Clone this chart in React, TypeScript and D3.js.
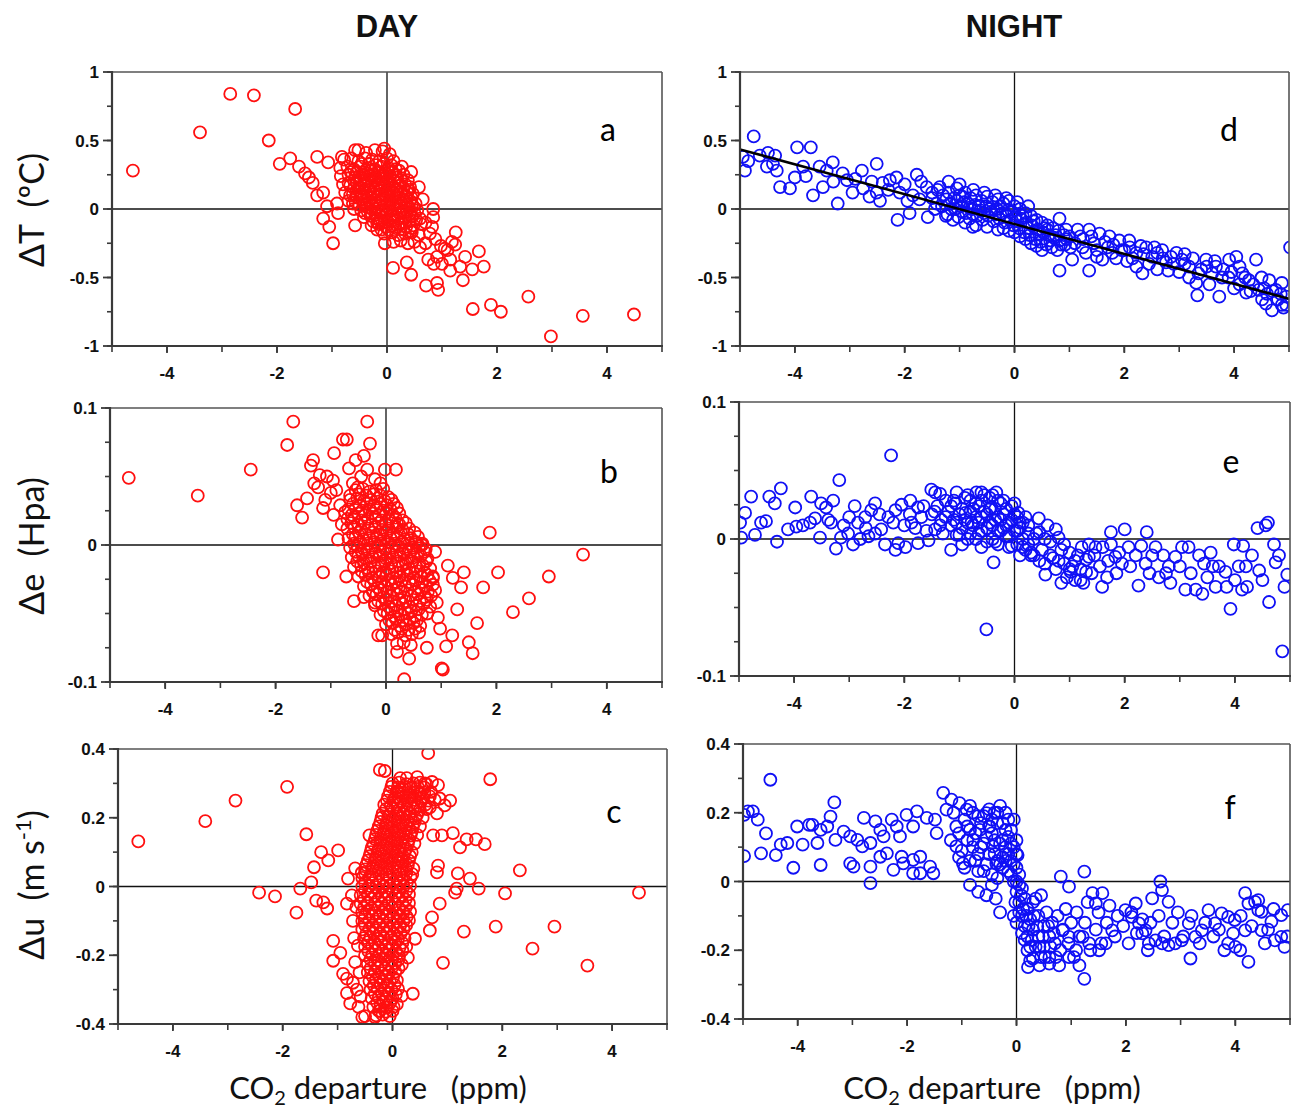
import React from 'react';
import * as d3 from 'd3';

// ---------- tick values & labels ----------
const xTickValues = [-4, -2, 0, 2, 4];
const xTickLabels = ['-4', '-2', '0', '2', '4'];
const tTickValues = [-1, -0.5, 0, 0.5, 1];
const tTickLabels = ['-1', '-0.5', '0', '0.5', '1'];
const eTickValues = [-0.1, 0, 0.1];
const eTickLabels = ['-0.1', '0', '0.1'];
const uTickValues = [-0.4, -0.2, 0, 0.2, 0.4];
const uTickLabels = ['-0.4', '-0.2', '0', '0.2', '0.4'];

// ---------- data: [CO2 departure (ppm), anomaly] ----------
const dayT: [number, number][] = [
  [-4.62,0.28],[-3.40,0.56],[-2.85,0.84],[-2.42,0.83],[-1.67,0.73],[-2.15,0.50],[-1.95,0.33],[-1.76,0.37],[-1.6,0.31],[-1.49,0.26],[-1.42,0.23],[-1.35,0.19],[-1.27,0.10],[-1.16,0.12],[-1.27,0.38],[-1.07,0.34],[-1.09,0.02],[-1.16,-0.07],[-1.05,-0.13],[-0.98,-0.25],[-0.89,-0.03],[-0.82,0.38],[-0.58,0.43],[-0.58,-0.12],[-0.91,0.04],[-0.18,-0.15],
  [-0.05,0.44],[0.44,0.27],[0.58,0.16],[0.84,0.0],[0.82,-0.13],[1.25,-0.17],[1.24,-0.26],[1.05,-0.29],[0.91,-0.35],[1.15,-0.37],[1.42,-0.35],[1.67,-0.31],[1.76,-0.42],[1.55,-0.44],[1.38,-0.52],[1.33,-0.42],[1.15,-0.45],[0.91,-0.54],[0.93,-0.59],[0.71,-0.56],[0.44,-0.48],[0.11,-0.43],[0.36,-0.39],[-0.04,-0.25],[1.56,-0.73],[1.89,-0.70],[2.07,-0.75],[2.57,-0.64],[2.98,-0.93],[3.56,-0.78],[4.49,-0.77],[0.6,-0.28],[0.75,-0.37],[0.84,-0.06],[0.65,0.07],
  [0.7,-0.1],[0.78,-0.18],[0.88,-0.22],[0.98,-0.27],[1.1,-0.3],[1.18,-0.24],[0.7,-0.25],[0.85,-0.4],[1.0,-0.4],
  [-0.52,0.43],[-0.38,0.41],[-0.22,0.43],[-0.08,0.42],[0.05,0.40],
  [-0.78,0.36],[-0.65,0.37],[-0.52,0.35],[-0.4,0.37],[-0.27,0.36],[-0.14,0.35],[0.0,0.37],[0.12,0.35],
  [-0.85,0.30],[-0.72,0.31],[-0.6,0.29],[-0.48,0.31],[-0.35,0.30],[-0.22,0.29],[-0.1,0.31],[0.03,0.30],[0.16,0.29],[0.27,0.31],
  [-0.84,0.24],[-0.7,0.25],[-0.58,0.23],[-0.45,0.25],[-0.32,0.24],[-0.2,0.23],[-0.07,0.25],[0.06,0.24],[0.18,0.23],[0.3,0.25],
  [-0.8,0.18],[-0.67,0.17],[-0.55,0.19],[-0.42,0.18],[-0.3,0.17],[-0.17,0.19],[-0.05,0.18],[0.08,0.17],[0.2,0.19],[0.33,0.18],[0.42,0.16],
  [-0.76,0.12],[-0.62,0.11],[-0.5,0.13],[-0.38,0.12],[-0.25,0.11],[-0.12,0.13],[0.0,0.12],[0.12,0.11],[0.25,0.13],[0.37,0.12],[0.47,0.11],
  [-0.7,0.06],[-0.57,0.05],[-0.45,0.07],[-0.32,0.06],[-0.2,0.05],[-0.08,0.07],[0.05,0.06],[0.17,0.05],[0.3,0.07],[0.42,0.06],[0.52,0.04],
  [-0.6,0.0],[-0.47,-0.01],[-0.35,0.01],[-0.22,0.0],[-0.1,-0.01],[0.03,0.01],[0.15,0.0],[0.28,-0.01],[0.4,0.01],[0.55,-0.01],
  [-0.42,-0.06],[-0.3,-0.05],[-0.17,-0.07],[-0.05,-0.06],[0.08,-0.05],[0.2,-0.07],[0.33,-0.06],[0.45,-0.05],[0.6,-0.07],
  [-0.28,-0.12],[-0.15,-0.11],[-0.02,-0.13],[0.1,-0.12],[0.23,-0.11],[0.35,-0.13],[0.48,-0.12],[0.62,-0.11],
  [-0.05,-0.18],[0.08,-0.17],[0.2,-0.19],[0.33,-0.18],[0.45,-0.17],[0.58,-0.19],
  [0.12,-0.24],[0.25,-0.23],[0.38,-0.25],[0.5,-0.24],
  [-0.55,0.27],[-0.42,0.27],[-0.28,0.28],[-0.15,0.27],[-0.02,0.26],[0.1,0.27],[0.22,0.28],
  [-0.6,0.21],[-0.47,0.21],[-0.35,0.20],[-0.22,0.21],[-0.1,0.22],[0.02,0.21],[0.14,0.20],[0.26,0.21],[0.38,0.21],
  [-0.6,0.15],[-0.45,0.15],[-0.32,0.14],[-0.2,0.15],[-0.08,0.16],[0.05,0.15],[0.18,0.14],[0.3,0.15],[0.4,0.14],
  [-0.55,0.09],[-0.42,0.09],[-0.28,0.08],[-0.15,0.09],[-0.02,0.10],[0.1,0.09],[0.22,0.08],[0.35,0.09],[0.45,0.08],
  [-0.5,0.03],[-0.38,0.03],[-0.25,0.02],[-0.12,0.03],[0.0,0.04],[0.12,0.03],[0.25,0.02],[0.37,0.03],[0.48,0.02],
  [-0.4,-0.03],[-0.28,-0.03],[-0.15,-0.02],[-0.02,-0.03],[0.1,-0.04],[0.23,-0.03],[0.36,-0.02],[0.5,-0.03],
  [-0.25,-0.09],[-0.12,-0.09],[0.0,-0.08],[0.13,-0.09],[0.26,-0.10],[0.4,-0.09],[0.53,-0.08],
  [-0.1,-0.15],[0.03,-0.15],[0.16,-0.14],[0.3,-0.15],[0.43,-0.16],
  [-0.46,0.33],[-0.33,0.33],[-0.2,0.32],[-0.06,0.33],[0.08,0.32],
  [-0.66,0.27],[-0.5,0.24],[-0.37,0.26],[-0.25,0.25],[-0.12,0.24],[0.02,0.28],[0.15,0.25],
  [-0.7,0.19],[-0.52,0.16],[-0.4,0.21],[-0.27,0.19],[-0.14,0.17],[0.0,0.19],[0.12,0.16],[0.25,0.17],
  [-0.67,0.1],[-0.48,0.1],[-0.35,0.14],[-0.22,0.13],[-0.1,0.1],[0.04,0.13],[0.16,0.1],[0.3,0.11],
  [-0.62,0.04],[-0.42,0.04],[-0.28,0.04],[-0.15,0.06],[-0.02,0.07],[0.1,0.06],[0.22,0.05],[0.35,0.05],[0.45,0.03],
  [-0.35,-0.02],[-0.2,-0.04],[-0.08,-0.02],[0.05,-0.01],[0.18,-0.04],[0.3,-0.03],[0.42,-0.04],
  [-0.18,-0.1],[-0.05,-0.1],[0.07,-0.09],[0.2,-0.13],[0.32,-0.1],[0.45,-0.14],
];

const dayE: [number, number][] = [
  [-4.66,0.049],[-3.41,0.036],[-2.45,0.055],[-1.68,0.090],[-1.79,0.073],[-0.34,0.090],[-0.29,0.074],[-0.78,0.077],[-0.71,0.077],[-0.94,0.067],[-0.34,0.055],[-0.67,0.056],[-1.32,0.062],[-1.36,0.058],[-1.2,0.051],[-1.07,0.050],[-0.96,0.047],[-1.23,0.042],[-1.43,0.034],[-1.61,0.029],[-1.52,0.020],[-1.14,0.027],[-0.83,0.029],[-0.74,0.024],[-0.51,0.042],[-0.65,0.036],[-0.87,0.004],[-1.14,-0.020],[-0.72,-0.023],[-0.58,-0.041],[-0.4,-0.038],[-0.2,-0.042],[-0.14,-0.066],
  [-0.02,0.055],[0.18,0.055],[0.04,0.035],[0.2,0.016],[1.88,0.009],[3.57,-0.007],[2.95,-0.023],[2.59,-0.039],[2.3,-0.049],[2.03,-0.020],[1.76,-0.031],[1.65,-0.057],[1.5,-0.071],[1.57,-0.079],[1.29,-0.047],[1.41,-0.020],[1.36,-0.031],[1.21,-0.024],[1.12,-0.015],[0.89,-0.005],[0.65,0.0],[0.53,0.002],[1.01,-0.090],[1.03,-0.091],[0.33,-0.098],[0.42,-0.083],[0.2,-0.078],[0.74,-0.075],[1.09,-0.074],[1.2,-0.066],[-0.07,-0.066],[0.89,-0.033],[0.85,-0.023],[0.92,-0.042],[0.94,-0.053],[0.98,-0.061],
  [-1.0,0.038],[-0.9,0.04],[-0.6,0.045],[-0.45,0.05],[-0.55,0.062],[-0.4,0.065],[-1.3,0.045],[-1.1,0.033],[-0.95,0.022],[-0.8,0.015],[-0.2,0.048],[-0.1,0.045],
  [-0.55,0.040],[-0.42,0.041],[-0.3,0.039],[-0.18,0.040],[-0.05,0.041],
  [-0.65,0.033],[-0.52,0.034],[-0.4,0.032],[-0.27,0.033],[-0.15,0.034],[-0.02,0.032],[0.1,0.033],
  [-0.68,0.026],[-0.55,0.027],[-0.43,0.025],[-0.3,0.026],[-0.18,0.027],[-0.05,0.025],[0.08,0.026],[0.2,0.027],
  [-0.7,0.019],[-0.58,0.020],[-0.45,0.018],[-0.33,0.019],[-0.2,0.020],[-0.08,0.018],[0.05,0.019],[0.17,0.020],[0.3,0.018],
  [-0.7,0.012],[-0.57,0.013],[-0.45,0.011],[-0.32,0.012],[-0.2,0.013],[-0.07,0.011],[0.05,0.012],[0.18,0.013],[0.3,0.011],[0.42,0.012],
  [-0.68,0.005],[-0.55,0.006],[-0.42,0.004],[-0.3,0.005],[-0.17,0.006],[-0.05,0.004],[0.08,0.005],[0.2,0.006],[0.33,0.004],[0.45,0.005],[0.58,0.006],
  [-0.65,-0.002],[-0.52,-0.001],[-0.4,-0.003],[-0.27,-0.002],[-0.15,-0.001],[-0.02,-0.003],[0.1,-0.002],[0.23,-0.001],[0.35,-0.003],[0.48,-0.002],[0.6,-0.001],[0.72,-0.003],
  [-0.62,-0.009],[-0.5,-0.008],[-0.37,-0.010],[-0.25,-0.009],[-0.12,-0.008],[0.0,-0.010],[0.13,-0.009],[0.25,-0.008],[0.38,-0.010],[0.5,-0.009],[0.63,-0.008],[0.75,-0.010],
  [-0.58,-0.016],[-0.45,-0.015],[-0.33,-0.017],[-0.2,-0.016],[-0.08,-0.015],[0.05,-0.017],[0.17,-0.016],[0.3,-0.015],[0.42,-0.017],[0.55,-0.016],[0.67,-0.015],[0.8,-0.017],
  [-0.5,-0.023],[-0.37,-0.022],[-0.25,-0.024],[-0.12,-0.023],[0.0,-0.022],[0.13,-0.024],[0.25,-0.023],[0.38,-0.022],[0.5,-0.024],[0.63,-0.023],[0.75,-0.022],[0.85,-0.024],
  [-0.4,-0.030],[-0.27,-0.029],[-0.15,-0.031],[-0.02,-0.030],[0.1,-0.029],[0.23,-0.031],[0.35,-0.030],[0.48,-0.029],[0.6,-0.031],[0.72,-0.030],[0.85,-0.029],
  [-0.3,-0.037],[-0.17,-0.036],[-0.05,-0.038],[0.08,-0.037],[0.2,-0.036],[0.33,-0.038],[0.45,-0.037],[0.58,-0.036],[0.7,-0.038],[0.82,-0.037],
  [-0.2,-0.044],[-0.07,-0.043],[0.05,-0.045],[0.18,-0.044],[0.3,-0.043],[0.43,-0.045],[0.55,-0.044],[0.68,-0.043],[0.8,-0.045],
  [-0.1,-0.051],[0.03,-0.050],[0.15,-0.052],[0.28,-0.051],[0.4,-0.050],[0.53,-0.052],[0.65,-0.051],[0.75,-0.050],
  [0.0,-0.058],[0.12,-0.057],[0.25,-0.059],[0.37,-0.058],[0.5,-0.057],[0.62,-0.059],
  [0.1,-0.065],[0.22,-0.064],[0.35,-0.066],[0.47,-0.065],[0.6,-0.064],
  [0.2,-0.072],[0.32,-0.071],[0.45,-0.073],
  [-0.48,0.037],[-0.35,0.036],[-0.22,0.037],[-0.1,0.036],
  [-0.6,0.030],[-0.48,0.029],[-0.35,0.03],[-0.22,0.029],[-0.1,0.03],[0.02,0.029],[0.14,0.03],
  [-0.62,0.022],[-0.5,0.023],[-0.38,0.022],[-0.25,0.023],[-0.13,0.022],[0.0,0.023],[0.12,0.022],[0.24,0.023],
  [-0.63,0.016],[-0.5,0.015],[-0.38,0.016],[-0.26,0.015],[-0.13,0.016],[0.0,0.015],[0.12,0.016],[0.24,0.015],[0.36,0.016],
  [-0.6,0.008],[-0.48,0.009],[-0.36,0.008],[-0.23,0.009],[-0.1,0.008],[0.02,0.009],[0.14,0.008],[0.27,0.009],[0.4,0.008],[0.52,0.009],
  [-0.58,0.001],[-0.46,0.002],[-0.33,0.001],[-0.2,0.002],[-0.08,0.001],[0.05,0.002],[0.17,0.001],[0.3,0.002],[0.42,0.001],[0.55,0.002],[0.66,0.001],
  [-0.55,-0.005],[-0.43,-0.006],[-0.3,-0.005],[-0.18,-0.006],[-0.05,-0.005],[0.07,-0.006],[0.2,-0.005],[0.32,-0.006],[0.45,-0.005],[0.57,-0.006],[0.7,-0.005],
  [-0.52,-0.012],[-0.4,-0.013],[-0.27,-0.012],[-0.14,-0.013],[-0.02,-0.012],[0.1,-0.013],[0.23,-0.012],[0.36,-0.013],[0.48,-0.012],[0.6,-0.013],[0.73,-0.012],
  [-0.44,-0.019],[-0.31,-0.02],[-0.18,-0.019],[-0.06,-0.02],[0.07,-0.019],[0.2,-0.02],[0.32,-0.019],[0.44,-0.02],[0.57,-0.019],[0.7,-0.02],
  [-0.34,-0.027],[-0.21,-0.026],[-0.08,-0.027],[0.04,-0.026],[0.17,-0.027],[0.29,-0.026],[0.42,-0.027],[0.54,-0.026],[0.66,-0.027],[0.79,-0.026],
  [-0.24,-0.034],[-0.11,-0.033],[0.02,-0.034],[0.14,-0.033],[0.27,-0.034],[0.39,-0.033],[0.52,-0.034],[0.64,-0.033],[0.76,-0.034],
  [-0.14,-0.041],[-0.01,-0.04],[0.11,-0.041],[0.24,-0.04],[0.36,-0.041],[0.49,-0.04],[0.61,-0.041],[0.74,-0.04],
  [-0.04,-0.048],[0.09,-0.047],[0.21,-0.048],[0.34,-0.047],[0.46,-0.048],[0.59,-0.047],
  [0.06,-0.055],[0.18,-0.054],[0.31,-0.055],[0.43,-0.054],[0.56,-0.055],
  [0.16,-0.062],[0.28,-0.061],[0.41,-0.062],[0.53,-0.061],
];

const dayU: [number, number][] = [
  [-4.63,0.131],[-3.41,0.19],[-2.86,0.25],[-1.92,0.29],[-1.57,0.152],[-1.3,0.1],[-0.99,0.105],[-1.17,0.076],[-1.43,0.056],[-1.48,0.012],[-1.68,-0.006],[-2.43,-0.018],[-2.14,-0.029],[-1.75,-0.076],[-1.39,-0.041],[-1.26,-0.046],[-1.19,-0.064],[-1.08,-0.158],[-0.95,-0.193],[-1.08,-0.216],[-0.9,-0.254],[-0.83,-0.268],[-0.83,-0.31],[-0.77,-0.34],[-0.68,0.053],[-0.56,0.04],[-0.81,0.023],[-0.74,-0.026],[-0.83,-0.05],[-0.63,-0.172],[-0.42,0.149],[-0.23,0.339],[-0.5,-0.377],
  [0.65,0.388],[-0.14,0.336],[1.78,0.312],[2.32,0.047],[4.49,-0.018],[2.05,-0.02],[2.95,-0.117],[2.55,-0.181],[1.88,-0.117],[1.3,-0.131],[3.55,-0.23],[0.92,-0.222],[1.68,0.123],[1.52,0.137],[1.35,0.137],[1.23,0.114],[1.1,0.155],[1.19,0.038],[1.41,0.023],[1.57,-0.006],[1.14,-0.018],[1.17,-0.006],[0.83,0.061],[0.81,0.041],[0.86,-0.05],[0.72,-0.09],[0.68,-0.128],[0.41,-0.152],[0.28,-0.207],[0.37,-0.312],[0.17,-0.318],[0.08,-0.342],[-0.23,-0.362],[-0.32,-0.38],[1.05,0.25],[0.95,0.236],[0.86,0.256],[0.83,0.295],[0.72,0.304],[0.59,0.3],[0.45,0.318],[0.26,0.315],[0.14,0.315],[0.1,0.274],[0.32,0.266],[0.5,0.271],[0.68,0.23],[0.81,0.213],[0.74,0.149],[0.9,0.149],
  [-0.72,-0.1],[-0.7,-0.15],[-0.68,-0.22],[-0.72,-0.28],[-0.65,-0.3],[-0.62,-0.35],[-0.66,-0.06],[-0.6,-0.25],[-0.58,-0.32],[-0.55,-0.38],
  [0.0,0.30],[0.12,0.302],[0.25,0.298],[0.38,0.30],[0.5,0.302],[0.62,0.298],
  [-0.05,0.275],[0.08,0.277],[0.2,0.273],[0.33,0.275],[0.45,0.277],[0.58,0.273],[0.7,0.275],
  [-0.1,0.25],[0.02,0.252],[0.15,0.248],[0.27,0.25],[0.4,0.252],[0.52,0.248],[0.65,0.25],[0.77,0.252],
  [-0.12,0.225],[0.0,0.227],[0.12,0.223],[0.25,0.225],[0.37,0.227],[0.5,0.223],[0.62,0.225],
  [-0.2,0.2],[-0.08,0.202],[0.05,0.198],[0.17,0.2],[0.3,0.202],[0.42,0.198],[0.55,0.2],
  [-0.25,0.175],[-0.12,0.177],[0.0,0.173],[0.12,0.175],[0.25,0.177],[0.37,0.173],[0.5,0.175],
  [-0.3,0.15],[-0.17,0.152],[-0.05,0.148],[0.08,0.15],[0.2,0.152],[0.33,0.148],[0.45,0.15],
  [-0.35,0.125],[-0.22,0.127],[-0.1,0.123],[0.03,0.125],[0.15,0.127],[0.28,0.123],[0.4,0.125],
  [-0.4,0.1],[-0.27,0.102],[-0.15,0.098],[-0.02,0.1],[0.1,0.102],[0.22,0.098],[0.35,0.1],
  [-0.45,0.075],[-0.32,0.077],[-0.2,0.073],[-0.07,0.075],[0.05,0.077],[0.18,0.073],[0.3,0.075],
  [-0.5,0.05],[-0.37,0.052],[-0.25,0.048],[-0.12,0.05],[0.0,0.052],[0.13,0.048],[0.25,0.05],[0.38,0.052],
  [-0.55,0.025],[-0.42,0.027],[-0.3,0.023],[-0.17,0.025],[-0.05,0.027],[0.08,0.023],[0.2,0.025],[0.33,0.027],
  [-0.55,0.0],[-0.42,0.002],[-0.3,-0.002],[-0.17,0.0],[-0.05,0.002],[0.08,-0.002],[0.2,0.0],[0.32,0.002],
  [-0.58,-0.025],[-0.45,-0.023],[-0.32,-0.027],[-0.2,-0.025],[-0.07,-0.023],[0.05,-0.027],[0.18,-0.025],[0.3,-0.023],
  [-0.58,-0.05],[-0.45,-0.048],[-0.32,-0.052],[-0.2,-0.05],[-0.07,-0.048],[0.05,-0.052],[0.18,-0.05],[0.3,-0.048],
  [-0.55,-0.075],[-0.42,-0.073],[-0.3,-0.077],[-0.17,-0.075],[-0.05,-0.073],[0.08,-0.077],[0.2,-0.075],[0.32,-0.073],
  [-0.55,-0.1],[-0.42,-0.098],[-0.3,-0.102],[-0.17,-0.1],[-0.05,-0.098],[0.08,-0.102],[0.2,-0.1],[0.3,-0.098],
  [-0.55,-0.125],[-0.42,-0.123],[-0.3,-0.127],[-0.17,-0.125],[-0.05,-0.123],[0.08,-0.127],[0.2,-0.125],
  [-0.52,-0.15],[-0.4,-0.148],[-0.27,-0.152],[-0.15,-0.15],[-0.02,-0.148],[0.1,-0.152],[0.22,-0.15],
  [-0.5,-0.175],[-0.37,-0.173],[-0.25,-0.177],[-0.12,-0.175],[0.0,-0.173],[0.13,-0.177],[0.25,-0.175],
  [-0.5,-0.2],[-0.37,-0.198],[-0.25,-0.202],[-0.12,-0.2],[0.0,-0.198],[0.12,-0.202],
  [-0.45,-0.225],[-0.32,-0.223],[-0.2,-0.227],[-0.07,-0.225],[0.05,-0.223],[0.17,-0.227],
  [-0.45,-0.25],[-0.32,-0.248],[-0.2,-0.252],[-0.07,-0.25],[0.05,-0.248],
  [-0.42,-0.275],[-0.3,-0.273],[-0.17,-0.277],[-0.05,-0.275],[0.08,-0.273],
  [-0.4,-0.3],[-0.27,-0.298],[-0.15,-0.302],[-0.02,-0.3],[0.1,-0.298],
  [-0.38,-0.325],[-0.25,-0.323],[-0.12,-0.327],[0.0,-0.325],
  [-0.35,-0.35],[-0.22,-0.348],[-0.1,-0.352],[0.02,-0.35],
  [-0.3,-0.375],[-0.18,-0.373],[-0.05,-0.377],
  [-0.02,0.29],[0.1,0.288],[0.22,0.29],[0.34,0.288],[0.46,0.29],[0.58,0.288],
  [-0.08,0.262],[0.05,0.26],[0.17,0.262],[0.3,0.26],[0.42,0.262],[0.55,0.26],[0.68,0.262],
  [-0.15,0.238],[-0.03,0.236],[0.1,0.238],[0.22,0.236],[0.35,0.238],[0.47,0.236],[0.6,0.238],
  [-0.18,0.212],[-0.05,0.21],[0.07,0.212],[0.2,0.21],[0.32,0.212],[0.45,0.21],
  [-0.22,0.188],[-0.1,0.186],[0.03,0.188],[0.15,0.186],[0.28,0.188],[0.4,0.186],
  [-0.28,0.162],[-0.15,0.16],[-0.02,0.162],[0.1,0.16],[0.23,0.162],[0.35,0.16],
  [-0.32,0.138],[-0.2,0.136],[-0.07,0.138],[0.05,0.136],[0.18,0.138],[0.3,0.136],
  [-0.38,0.112],[-0.25,0.11],[-0.12,0.112],[0.0,0.11],[0.13,0.112],[0.25,0.11],
  [-0.42,0.088],[-0.3,0.086],[-0.17,0.088],[-0.05,0.086],[0.08,0.088],[0.2,0.086],[0.32,0.088],
  [-0.48,0.062],[-0.35,0.06],[-0.22,0.062],[-0.1,0.06],[0.03,0.062],[0.15,0.06],[0.28,0.062],
  [-0.5,0.038],[-0.38,0.036],[-0.25,0.038],[-0.12,0.036],[0.0,0.038],[0.13,0.036],[0.25,0.038],[0.36,0.036],
  [-0.5,0.012],[-0.37,0.01],[-0.24,0.012],[-0.11,0.01],[0.02,0.012],[0.14,0.01],[0.26,0.012],
  [-0.5,-0.012],[-0.38,-0.014],[-0.25,-0.012],[-0.13,-0.014],[0.0,-0.012],[0.12,-0.014],[0.25,-0.012],
  [-0.52,-0.038],[-0.39,-0.036],[-0.26,-0.038],[-0.14,-0.036],[-0.01,-0.038],[0.12,-0.036],[0.24,-0.038],
  [-0.52,-0.062],[-0.39,-0.064],[-0.26,-0.062],[-0.14,-0.064],[-0.01,-0.062],[0.12,-0.064],[0.24,-0.062],
  [-0.5,-0.088],[-0.37,-0.086],[-0.24,-0.088],[-0.11,-0.086],[0.02,-0.088],[0.14,-0.086],[0.26,-0.088],
  [-0.5,-0.112],[-0.37,-0.114],[-0.24,-0.112],[-0.11,-0.114],[0.02,-0.112],[0.14,-0.114],[0.25,-0.112],
  [-0.48,-0.138],[-0.35,-0.136],[-0.22,-0.138],[-0.1,-0.136],[0.03,-0.138],[0.15,-0.136],
  [-0.45,-0.162],[-0.32,-0.164],[-0.2,-0.162],[-0.07,-0.164],[0.06,-0.162],[0.18,-0.164],
  [-0.44,-0.188],[-0.31,-0.186],[-0.18,-0.188],[-0.06,-0.186],[0.06,-0.188],[0.18,-0.186],
  [-0.4,-0.212],[-0.27,-0.214],[-0.14,-0.212],[-0.01,-0.214],[0.11,-0.212],
  [-0.4,-0.238],[-0.27,-0.236],[-0.14,-0.238],[-0.01,-0.236],[0.11,-0.238],
  [-0.36,-0.262],[-0.24,-0.264],[-0.11,-0.262],[0.01,-0.264],
  [-0.34,-0.288],[-0.21,-0.286],[-0.08,-0.288],[0.04,-0.286],
  [-0.32,-0.312],[-0.19,-0.314],[-0.06,-0.312],[0.06,-0.314],
  [-0.28,-0.338],[-0.16,-0.336],[-0.04,-0.338],
  [-0.25,-0.362],[-0.12,-0.364],[0.0,-0.362],
];

const nightT: [number, number][] = [
  [-4.75,0.53],[-4.95,0.38],[-4.91,0.28],[-4.64,0.39],[-4.49,0.41],[-4.36,0.39],[-4.51,0.31],[-4.33,0.28],[-4.27,0.16],[-4.09,0.15],[-3.96,0.45],[-3.71,0.45],[-4.0,0.23],[-3.85,0.31],[-3.67,0.10],[-3.55,0.31],[-3.42,0.28],[-3.49,0.16],[-3.31,0.34],[-3.22,0.04],[-3.13,0.26],[-3.05,0.21],[-2.95,0.12],[-2.78,0.28],[-2.51,0.33],[-2.76,0.15],[-2.64,0.09],[-2.51,0.12],[-2.4,0.19],[-2.27,0.21],[-2.15,0.23],[-2.09,0.12],[-2.13,-0.08],[-1.91,-0.03],[-1.78,0.25],[-1.6,0.16],[-1.73,0.07],[-1.58,-0.06],[-1.36,0.16],[-1.24,0.07],[-1.42,0.04],[-1.0,0.18],[-0.95,0.09],[-0.82,0.01],[-0.76,-0.13],
  [-4.85,0.35],[-4.4,0.33],[-3.8,0.24],[-3.3,0.2],[-2.9,0.22],[-2.6,0.2],[-2.3,0.14],[-2.0,0.18],[-1.85,0.1],[-1.5,0.12],[-1.2,0.2],[-1.7,0.2],[-2.45,0.06],[-1.95,0.06],
  [0.82,-0.07],[0.6,-0.15],[0.94,-0.15],[0.82,-0.45],[1.36,-0.15],[1.55,-0.18],[1.73,-0.2],[1.91,-0.23],[2.09,-0.23],[1.24,-0.28],[1.05,-0.37],[1.36,-0.45],[1.6,-0.37],[1.78,-0.32],[2.22,-0.32],[2.4,-0.28],[2.51,-0.35],[2.33,-0.47],[2.22,-0.42],[2.69,-0.3],[2.76,-0.39],[2.85,-0.35],[3.05,-0.37],[3.18,-0.42],[3.31,-0.54],[3.33,-0.63],[3.18,-0.5],[3.49,-0.37],[3.67,-0.42],[3.78,-0.5],[3.73,-0.64],[3.91,-0.37],[4.04,-0.35],[4.15,-0.47],[4.27,-0.52],[4.4,-0.37],[4.22,-0.61],[4.51,-0.66],[4.64,-0.52],[4.76,-0.59],[4.87,-0.54],[4.69,-0.74],[4.87,-0.7],[4.95,-0.64],[4.58,-0.69],[4.45,-0.59],[5.02,-0.28],
  [1.2,-0.2],[1.45,-0.25],[1.7,-0.28],[2.0,-0.3],[2.3,-0.27],[2.6,-0.32],[2.9,-0.4],[3.1,-0.33],[3.4,-0.44],[3.6,-0.47],[3.9,-0.5],[4.1,-0.55],[4.3,-0.6],[1.1,-0.25],[1.3,-0.32],[1.5,-0.3],[1.85,-0.36],[2.05,-0.38],[2.6,-0.44],[3.0,-0.46],[3.55,-0.55],[4.0,-0.58],[4.6,-0.62],[4.8,-0.66],[4.9,-0.72],
  [1.15,-0.15],[1.25,-0.22],[1.4,-0.2],[1.5,-0.35],[1.65,-0.24],[1.8,-0.26],[1.95,-0.3],[2.1,-0.28],[2.15,-0.36],[2.35,-0.33],[2.45,-0.4],[2.55,-0.28],[2.7,-0.36],[2.8,-0.45],[2.95,-0.32],[3.1,-0.4],[3.25,-0.36],[3.35,-0.47],[3.5,-0.42],[3.65,-0.38],[3.8,-0.44],[3.95,-0.46],[4.1,-0.42],[4.2,-0.5],[4.35,-0.55],[4.5,-0.5],[4.55,-0.58],[4.7,-0.6],[4.85,-0.62],[4.95,-0.7],
  [-1.2,0.12],[-1.18,0.04],[-1.22,-0.04],[-1.1,0.08],[-1.08,0.0],[-1.12,-0.08],[-1.05,0.15],[-1.0,0.1],[-0.98,0.02],[-1.02,-0.06],[-0.9,0.12],[-0.92,0.05],[-0.88,-0.03],[-0.9,-0.1],[-0.8,0.08],[-0.78,0.0],[-0.82,-0.07],[-0.7,0.1],[-0.72,0.03],[-0.68,-0.05],[-0.7,-0.12],[-0.6,0.06],[-0.62,-0.01],[-0.58,-0.08],[-0.5,0.09],[-0.52,0.02],[-0.48,-0.05],[-0.5,-0.13],[-0.4,0.05],[-0.42,-0.02],[-0.38,-0.09],[-0.3,0.07],[-0.32,0.0],[-0.28,-0.07],[-0.3,-0.15],[-0.2,0.04],[-0.22,-0.03],[-0.18,-0.1],[-0.1,0.06],[-0.12,-0.01],[-0.08,-0.08],[-0.1,-0.16],[0.0,0.02],[0.02,-0.05],[-0.02,-0.12],[0.1,0.0],[0.12,-0.07],[0.08,-0.14],[0.1,-0.2],[0.2,-0.03],[0.22,-0.1],[0.18,-0.17],[0.3,-0.05],[0.32,-0.12],[0.28,-0.19],[0.3,-0.25],[0.4,-0.08],[0.42,-0.15],[0.38,-0.22],[0.5,-0.1],[0.52,-0.17],[0.48,-0.24],[0.5,-0.3],[0.6,-0.12],[0.62,-0.19],[0.58,-0.26],[0.7,-0.14],[0.72,-0.21],[0.68,-0.28],[0.8,-0.16],[0.82,-0.23],[0.78,-0.3],[0.9,-0.19],[0.92,-0.26],[1.0,-0.2],[1.02,-0.28],
  [-1.5,0.08],[-1.45,0.0],[-1.4,0.14],[-1.3,0.1],[-1.32,0.02],[-1.25,-0.05],[-1.15,0.0],[-1.05,0.06],[-0.95,-0.02],[-0.85,0.04],[-0.75,-0.04],[-0.65,0.02],[-0.55,-0.03],[-0.45,0.0],[-0.35,-0.04],[-0.25,0.02],[-0.15,-0.05],[-0.05,-0.02],[0.05,-0.09],[0.15,-0.05],[0.25,-0.14],[0.35,-0.09],[0.45,-0.18],[0.55,-0.14],[0.65,-0.23],[0.75,-0.19],[0.85,-0.26],[0.95,-0.22],[-0.55,0.12],[-0.35,0.1],[-0.15,0.08],[0.05,0.05],[0.25,0.02],[-0.75,0.14],[-0.2,-0.14],[0.0,-0.17],[0.2,-0.22],[0.4,-0.27],
];

const nightE: [number, number][] = [
  [-2.24,0.061],[-3.18,0.043],[-4.24,0.037],[-4.35,0.026],[-4.45,0.031],[-4.78,0.031],[-4.89,0.019],[-4.98,0.012],[-4.96,0.001],[-4.71,0.003],[-4.6,0.012],[-4.51,0.013],[-4.31,-0.002],[-4.11,0.007],[-3.96,0.009],[-3.84,0.01],[-3.71,0.012],[-3.62,0.015],[-3.98,0.023],[-3.69,0.031],[-3.51,0.026],[-3.42,0.023],[-3.29,0.028],[-3.53,0.001],[-3.38,0.014],[-3.33,0.012],[-3.24,-0.007],[-3.15,0.001],[-3.02,0.004],[-2.93,-0.004],[-2.84,0.012],[-2.71,0.016],[-2.6,0.021],[-2.53,0.026],[-2.8,0.0],[-2.65,0.002],[-2.53,0.004],[-2.42,0.007],[-2.35,-0.004],[-2.16,-0.008],[-2.11,-0.003],[-1.98,-0.006],[-2.29,0.016],[-2.16,0.021],[-2.05,0.025],[-1.89,0.028],[-1.75,0.023],[-1.87,0.012],[-1.69,0.016],[-1.51,0.036],[-1.44,0.034],[-1.75,-0.003],[-1.56,-0.001],[-1.44,0.007],[-1.33,0.014],[-1.15,-0.008],[-1.07,0.026],[-0.89,0.019],[-0.78,0.012],[-0.69,0.034],[-0.6,0.028],[-0.42,0.023],[-0.51,-0.066],[-0.38,-0.017],
  [-1.9,0.018],[-1.8,0.008],[-1.65,0.024],[-1.6,0.006],[-1.5,0.018],[-1.4,0.024],[-1.3,0.004],[-1.25,0.028],[-2.0,0.01],[-2.2,0.012],[-2.45,0.018],[-2.7,0.008],[-3.0,0.016],[-2.9,0.024],[-3.1,0.01],[-1.35,0.033],[-1.05,0.034],[-0.85,0.032],[-0.95,-0.004],[-0.6,-0.006],[-0.3,-0.004],
  [-0.33,0.034],[0.07,0.019],[0.44,0.015],[0.75,0.007],[0.8,0.001],[0.56,-0.026],[0.85,-0.032],[1.02,-0.024],
  [1.22,-0.006],[1.35,-0.013],[1.47,-0.006],[1.59,-0.035],[1.68,-0.028],[1.83,-0.013],[2.0,0.007],[2.07,-0.006],[1.95,-0.018],[2.25,-0.034],[2.38,-0.018],[2.56,-0.006],[2.62,-0.028],[2.8,-0.02],[2.92,-0.013],[2.83,-0.032],[3.04,-0.006],[3.1,-0.037],[3.16,-0.006],[3.29,-0.037],[3.41,-0.04],[3.44,-0.018],[3.56,-0.01],[3.65,-0.035],[3.71,-0.02],[3.83,-0.024],[3.98,-0.004],[3.92,-0.051],[4.07,-0.02],[4.13,-0.037],[4.22,-0.035],[4.31,-0.012],[4.44,-0.023],[4.41,0.008],[4.56,0.01],[4.62,-0.046],[4.71,-0.004],[4.74,-0.017],[4.86,-0.082],[4.95,-0.026],
  [0.25,0.01],[0.35,0.0],[0.3,-0.012],[0.45,0.005],[0.5,-0.008],[0.55,-0.018],[0.65,-0.002],[0.7,-0.014],[0.75,-0.022],[0.85,-0.008],[0.9,-0.018],[0.95,-0.028],[1.0,-0.01],[1.05,-0.02],[1.1,-0.03],[1.15,-0.012],[1.2,-0.022],[1.25,-0.032],[1.3,-0.015],[1.4,-0.025],[1.45,-0.012],[1.55,-0.02],[1.6,-0.006],[1.7,-0.016],[1.75,-0.004],[1.85,-0.025],[1.9,-0.01],[2.1,-0.02],[2.2,-0.012],[2.3,-0.005],[2.45,-0.025],[2.5,-0.012],[2.7,-0.012],[2.75,-0.025],[3.0,-0.02],[3.2,-0.025],[3.35,-0.012],[3.5,-0.028],[3.6,-0.02],[3.85,-0.035],[4.0,-0.03],[4.2,-0.02],[4.5,-0.03],[4.8,-0.012],[4.9,-0.035],[4.6,0.012],[4.15,-0.005],[2.4,0.005],[1.75,0.005],[0.6,0.01],[0.1,0.012],
  [-1.2,0.02],[-1.15,0.01],[-1.1,0.028],[-1.05,0.003],[-1.0,0.018],[-0.95,0.008],[-0.9,0.03],[-0.85,0.0],[-0.8,0.02],[-0.75,0.01],[-0.7,0.026],[-0.65,0.004],[-0.6,0.016],[-0.55,0.032],[-0.5,0.008],[-0.45,0.022],[-0.4,0.0],[-0.35,0.014],[-0.3,0.028],[-0.25,0.006],[-0.2,0.018],[-0.15,0.002],[-0.1,0.012],[-0.05,0.024],[0.0,0.006],[0.05,-0.004],[0.1,0.008],[0.15,0.0],[0.2,-0.008],[0.25,0.004],[-1.1,0.014],[-0.9,0.014],[-0.7,0.016],[-0.5,0.018],[-0.3,0.016],[-0.1,0.002],[0.05,0.016],[-0.8,0.004],[-0.6,0.006],[-0.4,0.01],[-0.2,0.008],[0.0,0.018],[-0.65,0.024],[-0.45,0.03],[-0.25,0.026],[-0.05,-0.005],[0.15,0.012],[0.3,-0.01],[-0.35,-0.002],[-0.15,0.022],
  [-1.45,0.02],[-1.35,0.01],[-1.25,0.016],[-1.15,0.024],[-1.05,0.012],[-0.95,0.022],[-0.85,0.012],[-0.75,0.022],[-0.65,0.012],[-0.55,0.02],[-0.45,0.012],[-0.35,0.022],[-0.25,0.014],[-0.15,0.01],[-0.05,0.014],[0.05,0.006],[0.15,-0.006],[0.25,-0.004],[0.35,-0.012],[0.4,0.004],[-1.0,0.003],[-0.8,0.028],[-0.6,0.034],[-0.4,0.032],[-0.2,0.028],[0.0,0.026],[-0.7,0.0],[-0.5,-0.002],[-0.3,0.006],[-0.1,-0.006],[0.1,-0.012],[0.2,0.016],[0.45,-0.016],[0.55,0.0],[0.65,-0.012],[0.8,-0.016],[0.9,-0.004],[1.0,-0.022],[1.1,-0.016],[1.2,-0.03],[1.3,-0.024],[1.35,-0.004],
];

const nightU: [number, number][] = [
  [-4.5,0.296],[-4.98,0.194],[-4.91,0.204],[-4.82,0.204],[-4.73,0.18],[-4.58,0.14],[-4.98,0.074],[-4.67,0.082],[-4.4,0.077],[-4.31,0.107],[-4.19,0.112],[-4.08,0.04],[-4.01,0.16],[-3.91,0.107],[-3.79,0.165],[-3.73,0.165],[-3.64,0.112],[-3.58,0.15],[-3.46,0.16],[-3.4,0.189],[-3.33,0.23],[-3.31,0.121],[-3.16,0.145],[-3.04,0.131],[-3.04,0.053],[-2.98,0.043],[-3.58,0.048],[-2.91,0.121],[-2.82,0.102],[-2.79,0.185],[-2.67,0.112],[-2.67,-0.005],[-2.58,0.175],[-2.49,0.15],[-2.43,0.131],[-2.37,0.082],[-2.28,0.18],[-2.19,0.16],[-2.13,0.131],[-2.1,0.072],[-2.01,0.194],[-1.89,0.16],[-1.82,0.204],[-1.76,0.072],[-1.64,0.185],[-1.58,0.043],[-1.49,0.18],[-1.46,0.141],[-1.34,0.258],[-1.28,0.209],[-1.19,0.238],[-1.1,0.102],[-1.04,0.228],[-0.98,0.053],[-0.91,0.209],[-0.85,0.15],[-0.79,0.121],[-0.67,0.15],[-0.55,0.199],[-0.49,0.16],[-0.43,0.102],[-0.37,0.053],[-2.07,0.053],[-1.89,0.024],[-1.76,0.024],[-1.52,0.024],[-1.89,0.063],[-2.67,0.043],[-2.49,0.072],[-2.25,0.034],
  [0.02,0.077],[1.24,0.029],[0.81,0.014],[0.96,-0.015],[1.39,-0.034],[1.57,-0.034],[1.45,-0.064],[2.63,0.0],[2.66,-0.025],[2.78,-0.059],[2.48,-0.049],[4.18,-0.034],[4.36,-0.059],[4.42,-0.083],[4.24,-0.064],[4.84,-0.098],[4.66,-0.117],[4.96,-0.083],[4.48,-0.142],[4.54,-0.18],[4.72,-0.171],[4.9,-0.19],[4.84,-0.161],[4.24,-0.234],[4.09,-0.2],[3.87,-0.18],[3.96,-0.151],[3.75,-0.093],[3.63,-0.122],[3.51,-0.083],[3.39,-0.142],[3.27,-0.161],[3.15,-0.122],[3.18,-0.224],[3.02,-0.171],[2.9,-0.18],[2.78,-0.185],[2.66,-0.18],[2.54,-0.171],[2.36,-0.142],[2.24,-0.122],[2.11,-0.103],[1.99,-0.083],[2.18,-0.064],[2.3,-0.151],[2.42,-0.18],[1.75,-0.142],[1.63,-0.18],[1.51,-0.2],[1.33,-0.18],[1.21,-0.161],[1.09,-0.2],[0.96,-0.161],[0.84,-0.142],[1.24,-0.283],[1.15,-0.244],[0.96,-0.22],[0.78,-0.244],[0.6,-0.239],[0.42,-0.244],[0.21,-0.249],[0.3,-0.224],[4.18,-0.142],[3.99,-0.112],[3.87,-0.103],[4.48,-0.088],[4.42,-0.054],
  [-1.2,0.12],[-1.1,0.16],[-1.0,0.09],[-0.95,0.18],[-0.9,0.12],[-0.85,0.06],[-0.8,0.2],[-0.75,0.14],[-0.7,0.08],[-0.65,0.17],[-0.6,0.11],[-0.55,0.05],[-0.5,0.21],[-0.45,0.14],[-0.4,0.08],[-0.35,0.17],[-0.3,0.11],[-0.25,0.04],[-0.2,0.15],[-0.15,0.08],[-0.1,0.02],[-0.05,0.1],[0.0,0.04],[-0.55,0.13],[-0.45,0.02],[-0.35,0.06],[-0.25,0.12],[-0.15,0.18],[-0.7,0.03],[-0.8,0.1],[-0.95,0.04],[-1.05,0.14],[-0.6,0.19],[-0.4,0.2],[-0.2,0.1],[-0.1,0.06],[0.05,-0.01],
  [-0.3,0.22],[-0.2,0.2],[-0.1,0.15],[-0.05,0.18],[0.0,0.12],[-0.25,0.07],[-0.15,0.13],[-0.35,0.01],[-0.05,0.05],
  [0.0,-0.03],[0.05,-0.06],[0.1,-0.02],[0.1,-0.1],[0.15,-0.05],[0.15,-0.13],[0.2,-0.08],[0.2,-0.16],[0.25,-0.11],[0.3,-0.06],[0.3,-0.14],[0.35,-0.19],[0.4,-0.1],[0.4,-0.16],[0.45,-0.22],[0.5,-0.13],[0.5,-0.19],[0.55,-0.09],[0.6,-0.16],[0.6,-0.22],[0.65,-0.12],[0.7,-0.18],[0.75,-0.1],[0.8,-0.2],[0.85,-0.14],[0.9,-0.08],[0.95,-0.18],[1.0,-0.12],[1.05,-0.22],[1.1,-0.09],[1.15,-0.16],[1.25,-0.12],[1.3,-0.06],[1.35,-0.2],[1.45,-0.14],[1.5,-0.09],[1.55,-0.18],[1.65,-0.12],[1.7,-0.07],[1.8,-0.16],[1.85,-0.1],[1.95,-0.13],[2.05,-0.18],[2.1,-0.09],[2.2,-0.15],[2.3,-0.11],[2.4,-0.2],[2.45,-0.12],[2.6,-0.1],[2.7,-0.16],[2.85,-0.12],[2.95,-0.09],[3.05,-0.16],[3.2,-0.1],[3.35,-0.18],[3.45,-0.12],[3.6,-0.16],[3.7,-0.14],[3.8,-0.2],[4.0,-0.19],[4.1,-0.1],[4.3,-0.13],[4.6,-0.14],[4.7,-0.08],[4.95,-0.16],
  [0.2,-0.2],[0.25,-0.23],[0.1,-0.15],[-0.05,-0.1],[0.0,-0.12],[0.35,-0.05],[0.45,-0.04],
  [-0.85,-0.01],[-0.7,-0.03],[-0.55,-0.04],[-0.45,-0.01],[-0.38,-0.05],[-0.3,-0.09],
  [-1.15,0.2],[-1.05,0.07],[-0.9,0.16],[-0.85,0.22],[-0.75,0.06],[-0.7,0.19],[-0.65,0.1],[-0.6,0.03],[-0.5,0.16],[-0.5,0.08],[-0.45,0.18],[-0.4,0.12],[-0.35,0.2],[-0.3,0.05],[-0.25,0.17],[-0.2,0.06],[-0.15,0.03],[-0.1,0.11],[-0.05,0.0],[0.0,0.08],[0.05,0.02],[0.08,-0.04],[0.12,-0.08],[0.18,-0.1],[0.22,-0.13],[0.28,-0.17],[0.32,-0.1],[0.38,-0.13],[0.42,-0.19],[0.48,-0.16],[0.52,-0.22],[0.58,-0.13],[0.62,-0.19],[0.68,-0.15],[0.72,-0.22],[0.05,-0.09],[0.15,-0.17],[0.25,-0.19],[-0.02,-0.06],[0.0,0.0],
];

// regression line of panel d (end points)
const fitX = [-5, 5];
const fitY = [0.435, -0.655];

// ---------- layout ----------
const RED = '#ff1010';
const BLUE = '#1010f5';
const TICK_FONT = '"Liberation Sans", Arial, sans-serif';
const LABEL_FONT = 'Lato, "Open Sans", sans-serif';

type Panel = {
  id: string;
  data: [number, number][];
  color: string;
  left: number; right: number; top: number; bottom: number;
  yDomain: [number, number];
  yTicks: number[]; yLabels: string[]; yMinor: number;
  letter: string; lx: number; ly: number;
  fit?: boolean;
};

const panels: Panel[] = [
  { id: 'a', data: dayT, color: RED, left: 112, right: 662, top: 72, bottom: 346, yDomain: [-1, 1], yTicks: tTickValues, yLabels: tTickLabels, yMinor: 0.25, letter: 'a', lx: 608, ly: 141 },
  { id: 'b', data: dayE, color: RED, left: 110, right: 662, top: 408, bottom: 682, yDomain: [-0.1, 0.1], yTicks: eTickValues, yLabels: eTickLabels, yMinor: 0.025, letter: 'b', lx: 609, ly: 483 },
  { id: 'c', data: dayU, color: RED, left: 118, right: 667, top: 749, bottom: 1024, yDomain: [-0.4, 0.4], yTicks: uTickValues, yLabels: uTickLabels, yMinor: 0.1, letter: 'c', lx: 614, ly: 823 },
  { id: 'd', data: nightT, color: BLUE, left: 740, right: 1289, top: 72, bottom: 346, yDomain: [-1, 1], yTicks: tTickValues, yLabels: tTickLabels, yMinor: 0.25, letter: 'd', lx: 1229, ly: 141, fit: true },
  { id: 'e', data: nightE, color: BLUE, left: 739, right: 1290, top: 402, bottom: 676, yDomain: [-0.1, 0.1], yTicks: eTickValues, yLabels: eTickLabels, yMinor: 0.025, letter: 'e', lx: 1231, ly: 473 },
  { id: 'f', data: nightU, color: BLUE, left: 743, right: 1290, top: 744, bottom: 1019, yDomain: [-0.4, 0.4], yTicks: uTickValues, yLabels: uTickLabels, yMinor: 0.1, letter: 'f', lx: 1230, ly: 819 },
];

function PanelView({ p }: { p: Panel }) {
  const x = d3.scaleLinear().domain([-5, 5]).range([p.left, p.right]);
  const y = d3.scaleLinear().domain(p.yDomain).range([p.bottom, p.top]);
  const xMinor = d3.range(-5, 5.0001, 1);
  const yMinor = d3.range(p.yDomain[0], p.yDomain[1] + 1e-9, p.yMinor);
  const line = d3.line<number>().x((_, i) => x(fitX[i])).y((v) => y(v));
  const axisCol = '#3a3a3a';
  return (
    <g>
      <defs>
        <clipPath id={`clip-${p.id}`}>
          <rect x={p.left} y={p.top} width={p.right - p.left} height={p.bottom - p.top} />
        </clipPath>
      </defs>
      <line x1={x(0)} x2={x(0)} y1={p.top} y2={p.bottom} stroke="#111" strokeWidth={1.3} />
      <line x1={p.left} x2={p.right} y1={y(0)} y2={y(0)} stroke="#111" strokeWidth={1.3} />
      <g clipPath={`url(#clip-${p.id})`}>
        {p.data.map(([a, b], i) => (
          <circle key={i} cx={x(a)} cy={y(b)} r={6} fill="none" stroke={p.color} strokeWidth={1.8} />
        ))}
        {p.fit && (
          <path d={line(fitY) || ''} fill="none" stroke="#000" strokeWidth={2.6} />
        )}
      </g>
      <line x1={p.left} x2={p.right} y1={p.top} y2={p.top} stroke="#555" strokeWidth={1.6} />
      <line x1={p.right} x2={p.right} y1={p.top} y2={p.bottom} stroke="#555" strokeWidth={1.6} />
      <line x1={p.left} x2={p.left} y1={p.top - 1} y2={p.bottom + 1} stroke={axisCol} strokeWidth={2.2} />
      <line x1={p.left - 1} x2={p.right + 1} y1={p.bottom} y2={p.bottom} stroke={axisCol} strokeWidth={2.2} />
      {yMinor.map((v, i) => (
        <line key={`ym${i}`} x1={p.left - 5} x2={p.left} y1={y(v)} y2={y(v)} stroke={axisCol} strokeWidth={1.6} />
      ))}
      {p.yTicks.map((v, i) => (
        <g key={`yt${i}`}>
          <line x1={p.left - 9} x2={p.left} y1={y(v)} y2={y(v)} stroke={axisCol} strokeWidth={1.8} />
          <text x={p.left - 13} y={y(v)} dy="0.36em" textAnchor="end" fontFamily={TICK_FONT} fontWeight="bold" fontSize={17} fill="#111">{p.yLabels[i]}</text>
        </g>
      ))}
      {xMinor.map((v, i) => (
        <line key={`xm${i}`} x1={x(v)} x2={x(v)} y1={p.bottom} y2={p.bottom + 6} stroke={axisCol} strokeWidth={1.6} />
      ))}
      {xTickValues.map((v, i) => (
        <g key={`xt${i}`}>
          <line x1={x(v)} x2={x(v)} y1={p.bottom} y2={p.bottom + 7} stroke={axisCol} strokeWidth={1.8} />
          <text x={x(v)} y={p.bottom + 33} textAnchor="middle" fontFamily={TICK_FONT} fontWeight="bold" fontSize={17} fill="#111">{xTickLabels[i]}</text>
        </g>
      ))}
      <text x={p.lx} y={p.ly} textAnchor="middle" fontFamily={LABEL_FONT} fontSize={32} fill="#000">{p.letter}</text>
    </g>
  );
}

function YTitle({ cy, children }: { cy: number; children: React.ReactNode }) {
  return (
    <text transform={`translate(44,${cy}) rotate(-90)`} textAnchor="middle" fontFamily={LABEL_FONT} fontSize={34} fill="#111" style={{ whiteSpace: 'pre' }}>
      {children}
    </text>
  );
}

function XTitle({ cx }: { cx: number }) {
  return (
    <text x={cx} y={1099} textAnchor="middle" fontFamily={LABEL_FONT} fontSize={31} fill="#111" style={{ whiteSpace: 'pre' }}>
      <tspan>CO</tspan>
      <tspan fontSize={20} dy={6}>2</tspan>
      <tspan dy={-6}>{' departure   (ppm)'}</tspan>
    </text>
  );
}

export default function App() {
  return (
    <svg width={1291} height={1112} viewBox="0 0 1291 1112" style={{ position: 'absolute', left: 0, top: 0, background: '#fff' }}>
      <rect x={0} y={0} width={1291} height={1112} fill="#fff" />
      <text x={387} y={37} textAnchor="middle" fontFamily={TICK_FONT} fontWeight="bold" fontSize={31} fill="#111">DAY</text>
      <text x={1014} y={37} textAnchor="middle" fontFamily={TICK_FONT} fontWeight="bold" fontSize={31} fill="#111">NIGHT</text>
      {panels.map((p) => (
        <PanelView key={p.id} p={p} />
      ))}
      <YTitle cy={210}>{'ΔT  (ºC)'}</YTitle>
      <YTitle cy={546}>{'Δe  (Hpa)'}</YTitle>
      <YTitle cy={885}>
        <tspan>{'Δu  (m s'}</tspan>
        <tspan fontSize={22} dy={-13}>-1</tspan>
        <tspan dy={13}>)</tspan>
      </YTitle>
      <XTitle cx={378} />
      <XTitle cx={992} />
    </svg>
  );
}
